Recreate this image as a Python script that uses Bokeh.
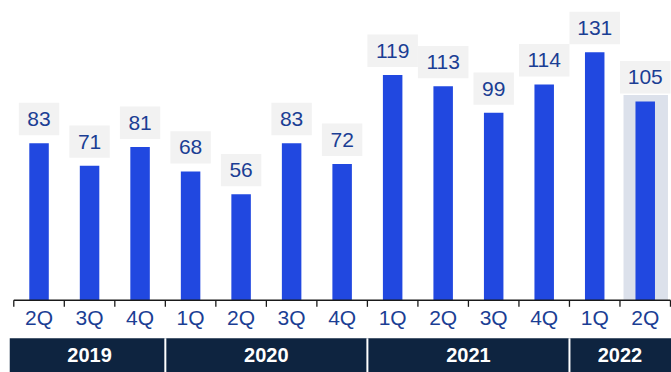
from bokeh.plotting import figure
from bokeh.models import Range1d, ColumnDataSource
from bokeh.core.properties import value
from bokeh.embed import file_html
from bokeh.resources import INLINE

# ---- data ----
quarters = ["2Q", "3Q", "4Q", "1Q", "2Q", "3Q", "4Q", "1Q", "2Q", "3Q", "4Q", "1Q", "2Q"]
values = [83, 71, 81, 68, 56, 83, 72, 119, 113, 99, 114, 131, 105]
years = ["2019", "2020", "2021", "2022"]
year_counts = [3, 4, 4, 2]
highlight_index = 12

# ---- styles ----
BAR = "#2148E0"
TXT = "#1B3E94"
BOX = "#F2F2F2"
BAND = "#0E2440"
HIL = "#DCE1EB"
FONT = "Liberation Sans"

PX = 1.895  # pixels per value unit (for offsets only)

n = len(values)
xs = [i + 0.5 for i in range(n)]

p = figure(width=671, height=372, min_border=0, toolbar_location=None,
           output_backend="svg", x_axis_type=None, y_axis_type=None,
           x_range=Range1d(-0.263, 13.02), y_range=Range1d(-38.1, 158.3))
p.grid.visible = False
p.outline_line_color = None
p.background_fill_color = "white"
p.border_fill_color = "white"

# highlight of last quarter
hx = xs[highlight_index]
p.quad(left=[hx - 0.43], right=[hx + 0.45], bottom=[0], top=[values[highlight_index] + 3.4],
       fill_color=HIL, line_color=None)

src = ColumnDataSource(dict(
    x=xs, top=values,
    box_y=[v + 8 / PX + 16.2 / PX for v in values],
    box_w=[0.8 if v < 100 else 1.0 for v in values],
    label=[str(v) for v in values],
    q=quarters,
))

p.vbar(x="x", top="top", bottom=0, width=0.386, source=src, fill_color=BAR, line_color=None)

# value label boxes
p.rect(x="x", y="box_y", width="box_w", height=32.4 / PX, source=src,
       fill_color=BOX, line_color=None)
p.text(x="x", y="box_y", text="label", source=src, text_align="center",
       text_baseline="middle", text_color=TXT, text_font=value(FONT),
       text_font_size="21px")

# axis line and ticks
p.segment(x0=[0], y0=[0], x1=[n], y1=[0], line_color="#1a1a1a", line_width=1.5)
ticks = list(range(n + 1))
p.segment(x0=ticks, y0=[0] * len(ticks), x1=ticks, y1=[-6.5 / PX] * len(ticks),
          line_color="#1a1a1a", line_width=1.3)

# quarter labels
p.text(x="x", y=-17.5 / PX, text="q", source=src, text_align="center",
       text_baseline="middle", text_color=TXT, text_font=value(FONT),
       text_font_size="21px")

# year band
lefts, rights, centers = [], [], []
start = 0
for c in year_counts:
    lefts.append(start)
    rights.append(start + c)
    centers.append(start + c / 2)
    start += c
lefts[0] = -0.08
rights[-1] = 13.02
band_top = -38 / PX
p.quad(left=lefts, right=rights, bottom=-40, top=band_top, fill_color=BAND, line_color=None)
seps = [sum(year_counts[:k + 1]) for k in range(len(year_counts) - 1)]
p.segment(x0=seps, y0=[band_top] * len(seps), x1=seps, y1=[-40] * len(seps),
          line_color="white", line_width=2)
p.text(x=centers, y=[-55 / PX] * len(centers), text=years, text_align="center",
       text_baseline="middle", text_color="white", text_font=value(FONT),
       text_font_size="20px", text_font_style="bold")

open("out.html", "w").write(file_html(p, INLINE))
